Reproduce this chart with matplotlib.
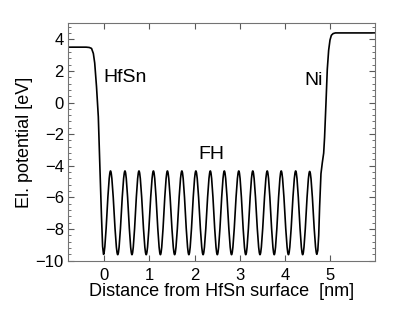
import matplotlib
matplotlib.use("Agg")
import matplotlib.pyplot as plt
from matplotlib.path import Path
from matplotlib.patches import PathPatch
from matplotlib.ticker import AutoMinorLocator

plt.rcParams['font.family'] = ['Liberation Sans', 'DejaVu Sans']

# HfSn side: plateau and drop into the first well
left_x = [-0.80, -0.40, -0.33, -0.28, -0.24, -0.21, -0.17, -0.13, -0.095, -0.06, -0.035]
left_y = [3.50, 3.50, 3.48, 3.42, 3.10, 2.50, 1.00, -0.90, -4.10, -7.20, -9.10]

# extrema of the potential in the FH layer
well_x = [-0.015, 0.30, 0.615, 0.93, 1.245, 1.56, 1.875, 2.19,
          2.505, 2.82, 3.135, 3.45, 3.765, 4.08, 4.395, 4.71]
well_y = [-9.60, -9.62, -9.62, -9.62, -9.62, -9.62, -9.62, -9.62,
          -9.62, -9.62, -9.62, -9.62, -9.62, -9.62, -9.62, -9.60]
peak_x = [0.14, 0.46, 0.77, 1.09, 1.40, 1.72, 2.03, 2.35,
          2.66, 2.98, 3.29, 3.61, 3.92, 4.24, 4.55]
peak_y = [-4.33, -4.33, -4.33, -4.33, -4.33, -4.33, -4.33, -4.33,
          -4.33, -4.33, -4.33, -4.33, -4.33, -4.33, -4.36]

# Ni side: rise out of the last well up to the Ni plateau
right_x = [4.73, 4.75, 4.77, 4.80, 4.83, 4.86, 4.88, 4.91, 4.94, 4.97, 5.00, 5.03, 5.07, 5.12, 6.00]
right_y = [-9.35, -8.40, -6.60, -4.50, -3.80, -3.20, -2.20, -0.10, 2.10, 3.30, 3.95, 4.25, 4.36, 4.40, 4.40]

# build one path: polyline on the sides, smooth cubic pieces between extrema
ext = []
for i in range(len(well_x)):
    ext.append((well_x[i], well_y[i]))
    if i < len(peak_x):
        ext.append((peak_x[i], peak_y[i]))

verts = [(left_x[0], left_y[0])]
codes = [Path.MOVETO]
for x, y in zip(left_x[1:], left_y[1:]):
    verts.append((x, y))
    codes.append(Path.LINETO)
verts.append(ext[0])
codes.append(Path.LINETO)
for (x0, y0), (x1, y1) in zip(ext[:-1], ext[1:]):
    dx = x1 - x0
    verts += [(x0 + dx / 3, y0), (x1 - dx / 3, y1), (x1, y1)]
    codes += [Path.CURVE4] * 3
for x, y in zip(right_x, right_y):
    verts.append((x, y))
    codes.append(Path.LINETO)

fig = plt.figure(figsize=(4.15, 3.21), dpi=100)
ax = fig.add_axes([0.164, 0.188, 0.740, 0.739])
ax.add_patch(PathPatch(Path(verts, codes), fill=False, edgecolor='black', lw=1.2, joinstyle='round'))

ax.set_xlim(-0.8, 6.0)
ax.set_ylim(-10, 5)
ax.set_xticks([0, 1, 2, 3, 4, 5])
ax.set_yticks([-10, -8, -6, -4, -2, 0, 2, 4])
ax.yaxis.set_minor_locator(AutoMinorLocator(5))
ax.tick_params(which='both', direction='in', top=True, right=True, labelsize=12, color='0.35')
ax.tick_params(which='major', length=4)
ax.tick_params(which='minor', length=2)
ax.tick_params(axis='x', pad=5)
ax.tick_params(axis='y', pad=3)
for s in ax.spines.values():
    s.set_color('0.45')
    s.set_linewidth(0.8)

ax.set_xlabel('Distance from HfSn surface  [nm]', fontsize=13, labelpad=0.5)
ax.set_ylabel('El. potential [eV]', fontsize=13, labelpad=2)

ax.text(0.47, 1.6, 'HfSn', fontsize=14, ha='center', va='center')
ax.text(2.37, -3.3, 'FH', fontsize=14, ha='center', va='center')
ax.text(4.63, 1.42, 'Ni', fontsize=14, ha='center', va='center')

fig.savefig('out.png', dpi=100)
